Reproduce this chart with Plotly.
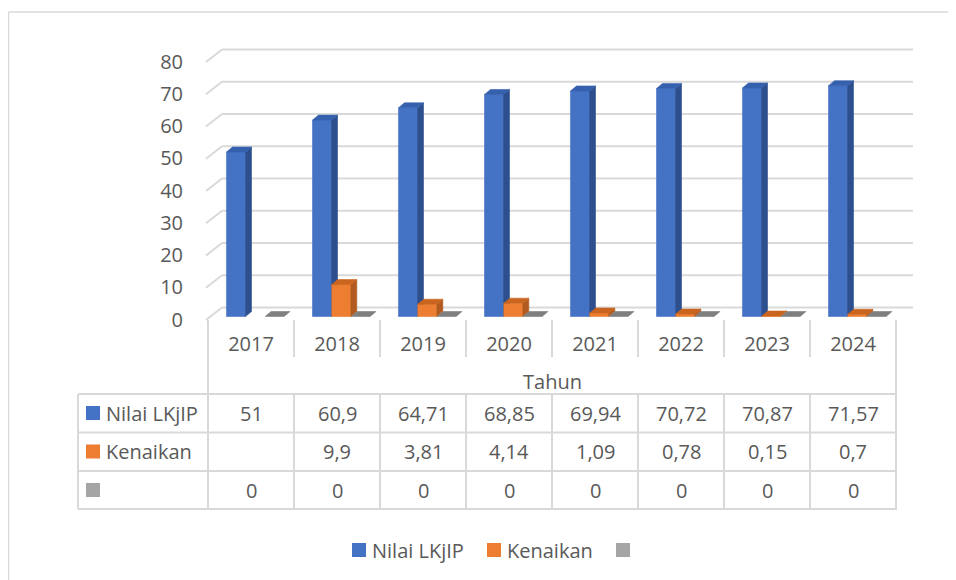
import plotly.graph_objects as go

# ---- data ----
years = ["2017", "2018", "2019", "2020", "2021", "2022", "2023", "2024"]
nilai_lkjip = [51, 60.9, 64.71, 68.85, 69.94, 70.72, 70.87, 71.57]
kenaikan = [None, 9.9, 3.81, 4.14, 1.09, 0.78, 0.15, 0.7]
series3 = [0, 0, 0, 0, 0, 0, 0, 0]
series_names = ["Nilai LKjIP", "Kenaikan", ""]
y_ticks = [0, 10, 20, 30, 40, 50, 60, 70, 80]
axis_title = "Tahun"

# ---- styling (pixel positions are screen pixels; page has 8px body margin) ----
OFF = 8
W, H = 956 - OFF, 580 - OFF
L_S, R_S, T_S, B_S = 200, 920, 40, 330        # plot area, screen pixels
L_PX, R_PX, T_PX, B_PX = L_S - OFF, R_S - OFF, T_S - OFF, B_S - OFF
COL_W = 86.0                                   # px per category
X_MIN = -0.5 - (208 - L_S) / COL_W
X_MAX = X_MIN + (R_PX - L_PX) / COL_W
PX_PER_UNIT = 3.225
ZERO_S = 316.5
Y_MIN = -(B_S - ZERO_S) / PX_PER_UNIT
Y_MAX = Y_MIN + (B_PX - T_PX) / PX_PER_UNIT

TXT = "#595959"
GRID = "#d9d9d9"
FONT = "Open Sans"
FS = 20

face_colors = [
    ("#4472C4", "#2E4F8E", "#3560AE"),   # front, side, top
    ("#ED7D31", "#B25A1F", "#C9651F"),
    ("#A5A5A5", "#6F6F6F", "#7F7F7F"),
]
legend_colors = ["#4472C4", "#ED7D31", "#A5A5A5"]
offsets_px = [-15.0, 4.3, 23.6]
bar_w = 19.0 / COL_W
ddx = 6.0 / COL_W
ddy = 5.0 / PX_PER_UNIT


def X(p):
    """screen pixel x -> paper"""
    return (p - L_S) / (R_S - L_S)


def Y(p):
    """screen pixel y -> paper"""
    return (B_S - p) / (B_S - T_S)


def fmt(v):
    if v is None:
        return ""
    return f"{v:g}".replace(".", ",")


fig = go.Figure()

all_series = [nilai_lkjip, kenaikan, series3]
for s, vals in enumerate(all_series):
    front_x, front_y, side_x, side_y, top_x, top_y = [], [], [], [], [], []
    for i, v in enumerate(vals):
        if v is None:
            continue
        x0 = i + offsets_px[s] / COL_W - bar_w / 2
        x1 = x0 + bar_w
        if v > 0:
            front_x += [x0, x1, x1, x0, x0, None]
            front_y += [0, 0, v, v, 0, None]
            side_x += [x1, x1 + ddx, x1 + ddx, x1, x1, None]
            side_y += [0, ddy, v + ddy, v, 0, None]
        top_x += [x0, x1, x1 + ddx, x0 + ddx, x0, None]
        top_y += [v, v, v + ddy, v + ddy, v, None]
    fc, sc, tc = face_colors[s]
    for xs, ys, col in ((front_x, front_y, fc), (side_x, side_y, sc), (top_x, top_y, tc)):
        if not xs:
            continue
        fig.add_trace(go.Scatter(
            x=xs, y=ys, mode="lines", fill="toself", fillcolor=col,
            line=dict(color=col, width=0.6), showlegend=False,
            hoverinfo="skip", name=series_names[s]))

shapes = []
# back-wall gridlines and left-side diagonals
back_dy = 9.0 / PX_PER_UNIT
front_dy = -3.5 / PX_PER_UNIT
gx0 = -0.5 + 14 / COL_W
gx1 = -0.5 + 705 / COL_W
fx = -0.5 - 2 / COL_W
for v in y_ticks:
    shapes.append(dict(type="line", xref="x", yref="y", x0=gx0, x1=gx1,
                       y0=v + back_dy, y1=v + back_dy,
                       line=dict(color=GRID, width=2), layer="below"))
    shapes.append(dict(type="line", xref="x", yref="y", x0=fx, x1=gx0,
                       y0=v + front_dy, y1=v + back_dy,
                       line=dict(color=GRID, width=2), layer="below"))

# data table lines
n = len(years)
tbl_top, r1, r2, tbl_bot = 394, 432.5, 471, 509
hdr_top, hdr_bot = 320, 357
for k in range(n + 1):
    xk = -0.5 + k
    if k in (0, n):
        shapes.append(dict(type="line", xref="x", yref="paper", x0=xk, x1=xk,
                           y0=Y(hdr_top), y1=Y(tbl_bot), line=dict(color=GRID, width=2)))
    else:
        shapes.append(dict(type="line", xref="x", yref="paper", x0=xk, x1=xk,
                           y0=Y(hdr_top), y1=Y(hdr_bot), line=dict(color=GRID, width=2)))
        shapes.append(dict(type="line", xref="x", yref="paper", x0=xk, x1=xk,
                           y0=Y(tbl_top), y1=Y(tbl_bot), line=dict(color=GRID, width=2)))
for yy in (tbl_top, r1, r2, tbl_bot):
    shapes.append(dict(type="line", xref="paper", yref="paper", x0=X(78), x1=X(897),
                       y0=Y(yy), y1=Y(yy), line=dict(color=GRID, width=2)))
shapes.append(dict(type="line", xref="paper", yref="paper", x0=X(78), x1=X(78),
                   y0=Y(tbl_top), y1=Y(tbl_bot), line=dict(color=GRID, width=2)))

# outer chart border (top and left edges visible in the frame)
shapes.append(dict(type="line", xref="paper", yref="paper", x0=X(8.5), x1=X(1000),
                   y0=Y(12), y1=Y(12), line=dict(color=GRID, width=1.5)))
shapes.append(dict(type="line", xref="paper", yref="paper", x0=X(8.5), x1=X(8.5),
                   y0=Y(12), y1=Y(700), line=dict(color=GRID, width=1.5)))

annotations = []
row_centers = [413, 451.5, 490]
for s, vals in enumerate(all_series):
    yc = row_centers[s]
    shapes.append(dict(type="rect", xref="paper", yref="paper", x0=X(86), x1=X(100),
                       y0=Y(yc - 7), y1=Y(yc + 7), fillcolor=legend_colors[s],
                       line=dict(width=0)))
    if series_names[s]:
        annotations.append(dict(x=X(104), y=Y(yc), xref="paper", yref="paper",
                                text=series_names[s], showarrow=False,
                                xanchor="left", yanchor="middle",
                                font=dict(family=FONT, size=FS, color=TXT)))
    for i, v in enumerate(vals):
        annotations.append(dict(x=i, y=Y(yc), xref="x", yref="paper", text=fmt(v),
                                showarrow=False, xanchor="center", yanchor="middle",
                                font=dict(family=FONT, size=FS, color=TXT)))

annotations.append(dict(x=(n - 1) / 2, y=Y(381), xref="x", yref="paper", text=axis_title,
                        showarrow=False, xanchor="center", yanchor="middle",
                        font=dict(family=FONT, size=FS, color=TXT)))

# bottom legend
leg_sq = [352, 487, 616]
for s in range(3):
    shapes.append(dict(type="rect", xref="paper", yref="paper", x0=X(leg_sq[s]),
                       x1=X(leg_sq[s] + 14), y0=Y(557), y1=Y(543),
                       fillcolor=legend_colors[s], line=dict(width=0)))
    if series_names[s]:
        annotations.append(dict(x=X(leg_sq[s] + 18), y=Y(550), xref="paper", yref="paper",
                                text=series_names[s], showarrow=False,
                                xanchor="left", yanchor="middle",
                                font=dict(family=FONT, size=FS, color=TXT)))

fig.update_layout(
    width=W, height=H,
    margin=dict(l=L_PX, r=W - R_PX, t=T_PX, b=H - B_PX, pad=0),
    paper_bgcolor="white", plot_bgcolor="white",
    showlegend=False,
    shapes=shapes, annotations=annotations,
    font=dict(family=FONT, size=FS, color=TXT),
    xaxis=dict(range=[X_MIN, X_MAX], tickvals=list(range(n)), ticktext=years,
               showgrid=False, zeroline=False, showline=False, ticks="",
               tickfont=dict(family=FONT, size=FS, color=TXT),
               ticklabelstandoff=0, fixedrange=True),
    yaxis=dict(range=[Y_MIN, Y_MAX], tickvals=y_ticks,
               showgrid=False, zeroline=False, showline=False, ticks="",
               tickfont=dict(family=FONT, size=FS, color=TXT),
               ticklabelstandoff=16, ticklabelshift=3, fixedrange=True),
)

fig.write_html("out.html", config={"displayModeBar": False},
               post_script="document.body.style.overflow='hidden';")
